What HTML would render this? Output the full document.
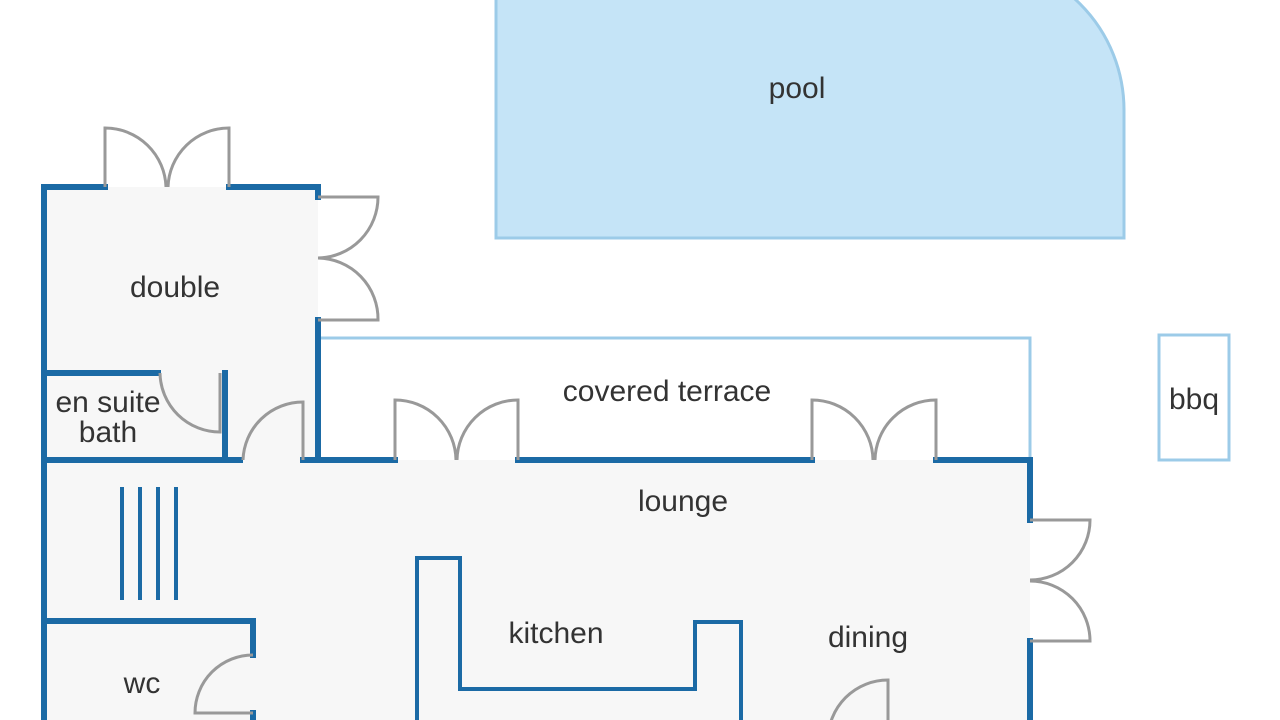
<!DOCTYPE html>
<html><head><meta charset="utf-8"><style>
html,body{margin:0;padding:0;background:#fff;}
svg{display:block;}
text{font-family:"Liberation Sans","DejaVu Sans",sans-serif;font-size:30px;fill:#333;text-anchor:middle;}
</style></head><body>
<svg width="1280" height="720" viewBox="0 0 1280 720" xmlns="http://www.w3.org/2000/svg">
<!-- pool -->
<path d="M496,238 V-40 H974 A150,150 0 0 1 1124,110 V238 Z" fill="#c5e4f7" stroke="#9ccbe8" stroke-width="3"/>
<!-- interior fills -->
<rect x="44" y="187" width="274" height="273" fill="#f7f7f7"/>
<rect x="44" y="460" width="986" height="270" fill="#f7f7f7"/>
<!-- terrace & bbq -->
<rect x="320" y="338" width="710" height="122" fill="#fff"/>
<path d="M320,338 H1030 V460" fill="none" stroke="#9ccbe8" stroke-width="3"/>
<rect x="1159" y="335" width="70" height="125" fill="#fff" stroke="#9ccbe8" stroke-width="3"/>
<!-- blue walls -->
<g stroke="#1b6aa5" stroke-width="6" fill="none" stroke-linecap="square">
<path d="M44,720 V187 H105"/>
<path d="M229,187 H318 V197"/>
<path d="M318,320 V460"/>
<path d="M44,373 H158"/>
<path d="M225,373 V460"/>
<path d="M44,460 H240"/>
<path d="M303,460 H395"/>
<path d="M518,460 H812"/>
<path d="M936,460 H1030 V520"/>
<path d="M1030,641 V720"/>
<path d="M44,621 H253 V655"/>
<path d="M253,713 V720"/>
</g>
<g stroke="#1b6aa5" stroke-width="4" fill="none">
<path d="M122,487 V600 M140,487 V600 M158,487 V600 M176,487 V600"/>
<path d="M417,720 V558 H460 V689 H695 V622 H741 V720"/>
</g>
<!-- doors -->
<g stroke="#999" stroke-width="3" fill="none">
<path d="M105,187 V128 A61,61 0 0 1 166,187"/>
<path d="M229,187 V128 A61,61 0 0 0 168,187"/>
<path d="M318,197 H378 A61,61 0 0 1 318,258"/>
<path d="M318,320 H378 A61,61 0 0 0 318,258"/>
<path d="M220,373 V432 A60,60 0 0 1 160,373"/>
<path d="M303,460 V402 A60,60 0 0 0 243,460"/>
<path d="M395,460 V400 A61,61 0 0 1 456,460"/>
<path d="M518,460 V400 A61,61 0 0 0 457,460"/>
<path d="M812,460 V400 A61,61 0 0 1 873,460"/>
<path d="M936,460 V400 A61,61 0 0 0 875,460"/>
<path d="M1030,520 H1090 A60,60 0 0 1 1030,580"/>
<path d="M1030,641 H1090 A60,60 0 0 0 1030,581"/>
<path d="M253,713 H195 A58,58 0 0 1 253,655"/>
<path d="M888,740 V680 A60,60 0 0 0 828,740"/>
</g>
<!-- labels -->
<text x="797" y="98">pool</text>
<text x="175" y="297">double</text>
<text x="108" y="412">en suite</text>
<text x="108" y="442">bath</text>
<text x="667" y="401">covered terrace</text>
<text x="1194" y="409">bbq</text>
<text x="683" y="511">lounge</text>
<text x="556" y="643">kitchen</text>
<text x="868" y="647">dining</text>
<text x="142" y="693">wc</text>
</svg>
</body></html>
